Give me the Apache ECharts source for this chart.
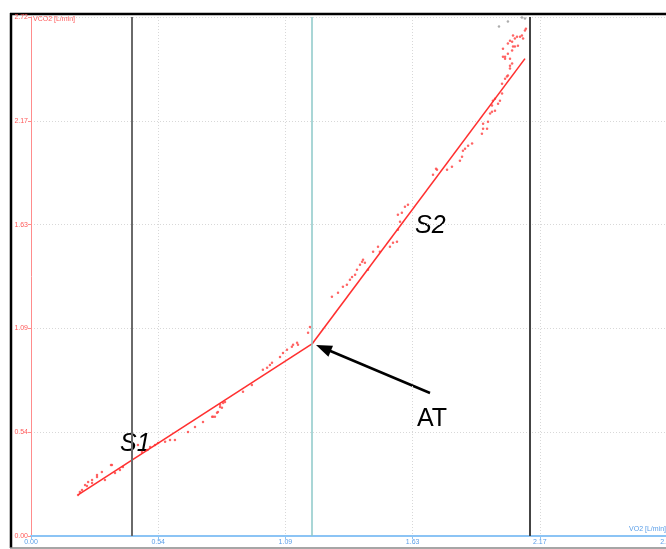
<!DOCTYPE html>
<html>
<head>
<meta charset="utf-8">
<script src="https://cdn.jsdelivr.net/npm/echarts@6/dist/echarts.min.js"></script>
<style>
  html, body { margin: 0; padding: 0; background: #fff; }
  #chart { width: 666px; height: 549px; }
</style>
</head>
<body>
<div id="chart"></div>
<script>
// axis ticks: 0 .. e split in five, labels as printed in the source
const axisMax = 2.718;
const axisStep = axisMax / 5;
const tickLabels = ["0.00", "0.54", "1.09", "1.63", "2.17", "2.72"];

// VO2 / VCO2 breath points (L/min)
const pointsS1 = [
  [0.201, 0.215], [0.209, 0.231], [0.218, 0.241], [0.231, 0.267], [0.239, 0.262],
  [0.244, 0.283], [0.261, 0.293], [0.261, 0.278], [0.282, 0.320], [0.282, 0.309],
  [0.303, 0.335], [0.316, 0.293], [0.342, 0.372], [0.346, 0.372], [0.359, 0.330],
  [0.380, 0.346], [0.393, 0.362], [0.457, 0.477], [0.474, 0.440], [0.496, 0.451],
  [0.509, 0.466], [0.530, 0.477], [0.543, 0.487], [0.573, 0.493], [0.594, 0.503],
  [0.615, 0.503], [0.671, 0.545], [0.701, 0.571], [0.735, 0.597], [0.778, 0.624],
  [0.774, 0.624], [0.786, 0.624], [0.795, 0.645], [0.799, 0.650], [0.808, 0.687],
  [0.808, 0.676], [0.816, 0.671], [0.821, 0.697], [0.829, 0.702], [0.906, 0.755],
  [0.944, 0.791], [0.991, 0.870], [1.009, 0.881], [1.021, 0.896], [1.030, 0.907],
  [1.064, 0.938], [1.077, 0.959], [1.094, 0.975], [1.115, 0.991], [1.120, 1.001],
  [1.137, 1.012], [1.141, 1.001], [1.184, 1.064], [1.192, 1.095]
];
const pointsS2 = [
  [1.286, 1.253], [1.312, 1.274], [1.333, 1.305], [1.350, 1.316], [1.363, 1.342],
  [1.372, 1.357], [1.385, 1.368], [1.393, 1.394], [1.406, 1.420], [1.415, 1.436],
  [1.419, 1.447], [1.427, 1.431], [1.440, 1.394], [1.462, 1.488], [1.483, 1.515],
  [1.491, 1.488], [1.534, 1.515], [1.547, 1.536], [1.564, 1.541], [1.568, 1.604],
  [1.577, 1.646], [1.568, 1.682], [1.585, 1.693], [1.598, 1.724], [1.611, 1.735],
  [1.718, 1.892], [1.731, 1.923], [1.735, 1.918], [1.778, 1.918], [1.799, 1.934],
  [1.833, 1.965], [1.842, 1.986], [1.846, 2.018], [1.855, 2.028], [1.868, 2.044],
  [1.885, 2.055], [1.927, 2.107], [1.932, 2.133], [1.949, 2.133], [1.932, 2.159],
  [1.953, 2.170], [1.962, 2.212], [1.970, 2.222], [1.983, 2.227], [1.970, 2.254],
  [1.974, 2.280], [1.983, 2.290], [2.004, 2.280], [1.996, 2.264], [2.013, 2.317],
  [2.013, 2.369], [2.026, 2.395], [2.034, 2.406], [2.038, 2.411], [2.047, 2.448],
  [2.047, 2.463], [2.056, 2.474], [2.026, 2.510], [2.017, 2.510], [2.026, 2.500],
  [2.047, 2.500], [2.038, 2.526], [2.056, 2.542], [2.060, 2.563], [2.068, 2.605],
  [2.090, 2.615], [2.103, 2.605], [2.038, 2.579], [2.056, 2.589], [2.068, 2.563],
  [2.081, 2.568], [2.111, 2.647], [2.077, 2.615], [2.060, 2.621], [2.098, 2.621],
  [2.017, 2.552], [2.047, 2.594], [2.115, 2.657]
];
const pointsGrey = [[2.000, 2.668], [2.038, 2.694], [2.098, 2.716], [2.111, 2.710]];

// fitted slopes
const lineS1 = [[0.201, 0.215], [1.201, 1.006]];
const lineS2 = [[1.201, 1.006], [2.111, 2.500]];

// vertical markers: start, AT, end
const startX = 0.432;
const atX = 1.201;
const endX = 2.133;

const chart = echarts.init(document.getElementById("chart"));

const tickFmt = v => tickLabels[Math.round(v / axisStep)] || "";
const dot = { color: "#ff4a4a", opacity: 0.85 };

chart.setOption({
  animation: false,
  grid: { left: 31, top: 17, width: 636, height: 519, outerBoundsMode: "none", containLabel: false },
  xAxis: {
    type: "value",
    min: 0,
    max: axisMax,
    interval: axisStep,
    axisLine: { onZero: false, lineStyle: { color: "#8cc4f5", width: 2 } },
    axisTick: { show: true, length: 3, lineStyle: { color: "#8cc4f5" } },
    axisLabel: { formatter: tickFmt, color: "#5a9ee8", fontSize: 7, fontFamily: "Liberation Sans", margin: 3, showMaxLabel: true },
    splitLine: { show: true, lineStyle: { color: "#d8d8d8", type: [1, 2] } }
  },
  yAxis: {
    type: "value",
    min: 0,
    max: axisMax,
    interval: axisStep,
    axisLine: { show: true, onZero: false, lineStyle: { color: "#ff8c8c", width: 1 } },
    axisTick: { show: true, length: 3, lineStyle: { color: "#ff8c8c" } },
    axisLabel: { formatter: tickFmt, color: "#ff5a5a", fontSize: 7, fontFamily: "Liberation Sans", margin: 3 },
    splitLine: { show: true, lineStyle: { color: "#d8d8d8", type: [1, 2] } }
  },
  series: [
    {
      type: "line",
      data: [],
      silent: true,
      markLine: {
        symbol: "none",
        silent: true,
        label: { show: false },
        data: [
          { xAxis: startX, lineStyle: { color: "#6a6a6a", width: 2, type: "solid" } },
          { xAxis: atX, lineStyle: { color: "#8cc8c8", width: 1.5, type: "solid" } },
          { xAxis: endX, lineStyle: { color: "#444", width: 2, type: "solid" } }
        ]
      }
    },
    { type: "scatter", data: pointsS1, symbolSize: 2.5, itemStyle: dot },
    { type: "scatter", data: pointsS2, symbolSize: 2.5, itemStyle: dot },
    { type: "scatter", data: pointsGrey, symbolSize: 2.5, itemStyle: { color: "#999" } },
    { type: "line", data: lineS1, symbol: "none", lineStyle: { color: "#ff3030", width: 1.6 } },
    { type: "line", data: lineS2, symbol: "none", lineStyle: { color: "#ff3030", width: 1.6 } }
  ],
  graphic: [
    // outer frame
    { type: "line", shape: { x1: 10, y1: 14, x2: 666, y2: 14 }, style: { stroke: "#000", lineWidth: 2.5 } },
    { type: "line", shape: { x1: 11, y1: 13, x2: 11, y2: 548 }, style: { stroke: "#000", lineWidth: 2.5 } },
    { type: "line", shape: { x1: 10, y1: 548, x2: 666, y2: 548 }, style: { stroke: "#888", lineWidth: 1.5 } },
    // axis titles
    { type: "text", left: 33, top: 16, style: { text: "VCO2 [L/min]", fill: "#ff5a5a", font: "7px Liberation Sans" } },
    { type: "text", right: 0, top: 526, style: { text: "VO2 [L/min]", fill: "#5a9ee8", font: "7px Liberation Sans" } },
    // annotations
    { type: "text", left: 120, top: 432, style: { text: "S1", fill: "#000", font: "italic 25px Liberation Sans" } },
    { type: "text", left: 415, top: 214, style: { text: "S2", fill: "#000", font: "italic 25px Liberation Sans" } },
    { type: "text", left: 417, top: 407, style: { text: "AT", fill: "#000", font: "25px Liberation Sans" } },
    { type: "line", shape: { x1: 430, y1: 393, x2: 328, y2: 350 }, style: { stroke: "#000", lineWidth: 2.5 } },
    { type: "polygon", shape: { points: [[316, 345], [328.4, 356.7], [333.0, 345.7]] }, style: { fill: "#000" } }
  ]
});
</script>
</body>
</html>
